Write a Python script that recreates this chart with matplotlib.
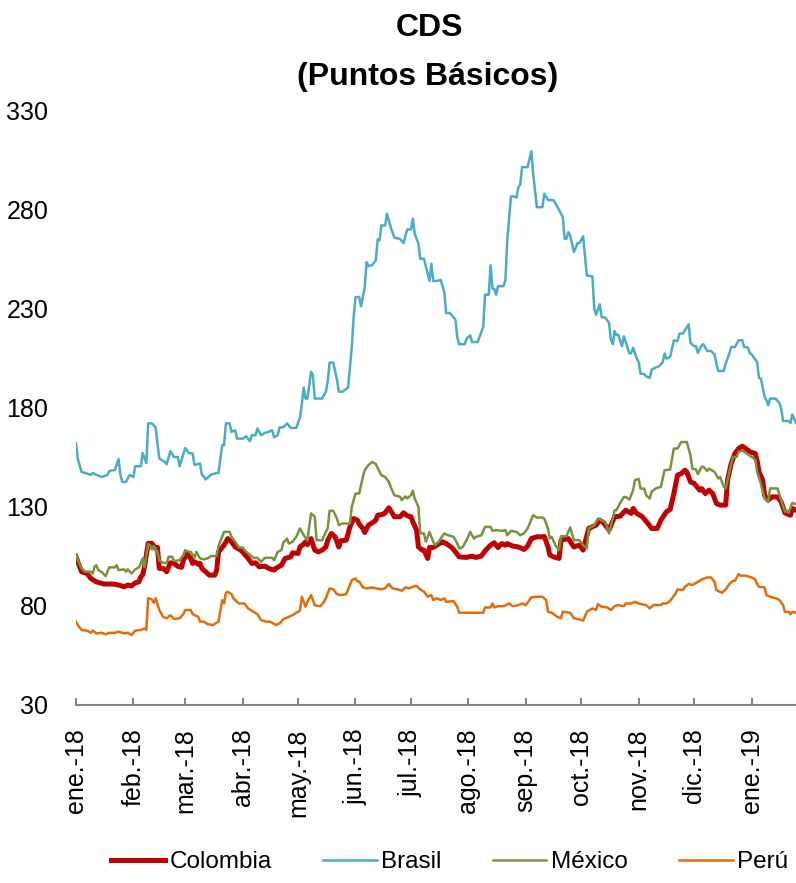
import matplotlib
matplotlib.use("Agg")
import matplotlib.pyplot as plt
import pandas as pd

# CDS en puntos basicos, (dias desde 1-ene-2018, valor)
colombia = [(0, 104.7), (1, 102.2), (3, 97.2), (6, 96.3), (8, 93.8), (11, 92.1), (15, 91), (20, 91),
            (23, 90.5), (26, 89.6), (28, 90.5), (30, 90), (32, 91.6), (34, 92.1), (35, 94.6), (36, 95.5),
            (37, 99.7), (39, 111.5), (41, 111.5), (43, 109), (44, 109.5), (45, 98.9), (47, 98.9), (49, 97.2),
            (51, 101.7), (53, 101.4), (55, 99.9), (57, 99.4), (58, 103), (60, 106.1), (62, 103.9), (63, 101.4),
            (64, 102.2), (66, 101), (67, 101.4), (68, 98.9), (71, 96.3), (72, 95.5), (75, 95.5), (76, 98),
            (77, 107.2), (80, 110.6), (82, 113.9), (84, 112.3), (86, 109.7), (89, 108.1), (90, 107.2), (93, 103.9),
            (95, 101.4), (97, 101.7), (99, 99.7), (102, 100), (104, 98.9), (107, 98), (108, 98.9), (111, 100.5),
            (113, 103.9), (116, 104.7), (117, 106.7), (120, 106.4), (121, 109.7), (123, 111.1), (124, 112.3),
            (125, 110.8), (127, 113.9), (129, 108.1), (131, 107.2), (133, 108.1), (135, 109.7), (136, 113.1),
            (138, 116.5), (140, 114.8), (142, 109.7), (143, 112.8), (146, 113.1), (148, 119.8), (150, 124),
            (152, 123.2), (153, 121.2), (155, 119), (156, 117), (158, 120.7), (160, 121.8), (162, 123.2),
            (163, 125.7), (166, 126.2), (167, 126.9), (169, 129.4), (171, 126.6), (172, 124.9), (175, 124.9),
            (177, 126.9), (179, 125.4), (181, 124.9), (182, 122.3), (184, 118.2), (185, 109.7), (187, 108.1),
            (188, 108.1), (190, 103.9), (191, 109.4), (193, 109.4), (195, 110.6), (197, 111.8), (198, 112.3),
            (200, 111.4), (203, 109.4), (205, 107.2), (207, 104.7), (211, 104.4), (214, 105.1), (216, 104.4),
            (219, 105.1), (221, 107.7), (223, 109.7), (224, 110.6), (226, 111.8), (228, 109.4), (230, 111.4),
            (232, 110.6), (233, 111.4), (236, 110.1), (239, 109.7), (242, 108.4), (244, 110.1), (246, 113.9),
            (249, 114.8), (252, 114.8), (253, 115), (255, 109.7), (256, 105.6), (258, 104.7), (261, 103.9),
            (262, 113.1), (266, 113.9), (269, 109.7), (272, 110.6), (274, 108.1), (277, 119), (281, 120.7),
            (283, 123.2), (285, 121.9), (288, 118.2), (291, 124.9), (294, 125.2), (297, 128.2), (300, 126.6),
            (301, 129.1), (303, 126.6), (306, 124.9), (309, 121.5), (311, 119), (314, 119), (316, 123.2),
            (319, 127.4), (321, 128.6), (323, 136.6), (325, 145.9), (327, 146.7), (329, 148.4), (330, 147.5),
            (332, 142.5), (334, 141.7), (337, 138.3), (338, 139.1), (340, 136.6), (342, 138.3), (344, 136.6),
            (346, 131.6), (348, 130.8), (351, 130.8), (352, 143.4), (354, 151.8), (356, 156.8), (358, 159.3),
            (360, 160.5), (363, 158.5), (364, 157.6), (367, 156.8), (368, 153.1), (369, 147.5), (371, 143.4),
            (372, 135.8), (374, 133.3), (376, 134.9), (379, 134.9), (381, 132.4), (383, 126.9), (384, 126.4),
            (386, 125.7), (387, 129.1), (389, 128.2)]

brasil = [(0, 162), (1, 154), (3, 147.5), (5, 147), (8, 146), (9, 147), (11, 146), (14, 145), (17, 146),
          (18, 148), (21, 148.5), (23, 154), (24, 146), (25, 142.5), (27, 142.5), (29, 146), (31, 145),
          (32, 150.4), (35, 150.4), (36, 157), (38, 152), (39, 172), (41, 172), (43, 170), (45, 154.3),
          (48, 152.6), (49, 151.4), (51, 158), (53, 155), (55, 155), (56, 150.4), (59, 159.6), (61, 157),
          (63, 156.8), (64, 151), (67, 151.8), (68, 146), (69, 145.3), (70, 143.7), (73, 146.2), (76, 147),
          (77, 147), (79, 161), (80, 161), (81, 172), (83, 172), (84, 167.7), (86, 168.5), (87, 164.3),
          (90, 164.3), (92, 165.5), (94, 163), (95, 166), (97, 166), (98, 169.4), (100, 166), (102, 167.2),
          (104, 167.7), (106, 168.5), (107, 165), (109, 166), (110, 170), (112, 170), (114, 172), (116, 169.7),
          (119, 169.7), (121, 175), (122, 181.6), (123, 190), (124, 184.5), (125, 184.5), (127, 198), (128, 196),
          (129, 184.5), (133, 184.5), (135, 188), (136, 193), (137, 202.6), (139, 202.6), (141, 194), (142, 188),
          (144, 188), (147, 190), (149, 210.5), (150, 225.6), (151, 235.7), (153, 235.7), (154, 231),
          (156, 240.7), (157, 253.3), (158, 251.3), (160, 251.8), (162, 254.2), (163, 264.8), (164, 264.3),
          (165, 271.8), (167, 271.8), (168, 277.7), (170, 271), (172, 265.6), (175, 265), (177, 262.9),
          (178, 266.8), (179, 269.8), (181, 269.8), (182, 275.2), (183, 267.6), (185, 262.6), (186, 255),
          (188, 255), (191, 243.8), (192, 252.5), (193, 243.8), (195, 243.8), (197, 244.4), (199, 238.2),
          (200, 227.6), (202, 227.6), (205, 224.3), (206, 215.5), (207, 211.9), (210, 211.9), (211, 214.7),
          (213, 216.4), (214, 213), (217, 213), (219, 218), (220, 220.6), (221, 236.9), (223, 236.9),
          (224, 251.7), (225, 239.9), (226, 239.9), (227, 236.9), (228, 241.2), (231, 241.2), (232, 244.4),
          (233, 264.3), (235, 286.4), (237, 286.4), (238, 285.8), (239, 291.1), (240, 292.3), (241, 301.2),
          (244, 301.2), (246, 309.2), (247, 297.8), (249, 281), (252, 281), (253, 287.8), (255, 284.7),
          (258, 284.5), (260, 281.4), (263, 276), (264, 265.1), (265, 265.1), (266, 268.4), (267, 266.8),
          (269, 258.4), (271, 262.9), (272, 262.9), (274, 266.3), (276, 246.6), (279, 246.1), (280, 229.8),
          (281, 226.8), (283, 232), (284, 225.6), (286, 225.3), (288, 222.6), (289, 214.2), (290, 211.9),
          (291, 218.6), (292, 216.6), (293, 216.6), (295, 210.9), (296, 215.9), (299, 207.2), (300, 207.5),
          (301, 210.1), (303, 204.6), (304, 202.9), (305, 197.1), (307, 196.8), (308, 195.7), (310, 194.9),
          (311, 199.1), (313, 200.1), (315, 200.8), (317, 202.9), (318, 207.2), (319, 204.6), (321, 205.5),
          (323, 213.9), (325, 213.4), (326, 217.2), (328, 217.4), (331, 222), (332, 212.6), (334, 210.9),
          (335, 210.9), (336, 207.5), (338, 211.4), (339, 211.9), (341, 208.5), (343, 208.5), (345, 206.8),
          (346, 202.1), (347, 198.4), (350, 198.4), (351, 202.1), (353, 207.2), (354, 210.5), (356, 210.5),
          (358, 213.9), (360, 213.9), (361, 210.5), (363, 210.2), (364, 207.5), (365, 206.8), (368, 202.9),
          (369, 194.9), (370, 194.6), (372, 185.7), (373, 183.7), (374, 181.1), (375, 184.5), (378, 184.5),
          (380, 182.3), (381, 179.5), (382, 173.2), (385, 173.2), (386, 172.2), (387, 176.5), (389, 172.2)]

mexico = [(0, 106.1), (1, 103), (3, 98.9), (5, 97.2), (8, 97.2), (9, 96.3), (10, 99.7), (11, 100.5),
          (12, 98), (14, 97), (16, 95), (17, 97.2), (18, 99.4), (21, 99.4), (22, 100.5), (23, 98), (26, 98.4),
          (27, 97.2), (28, 98.4), (30, 96.3), (32, 98.4), (34, 99.4), (35, 101.4), (36, 103.9), (37, 99.4),
          (38, 105.6), (39, 111.1), (40, 110.6), (41, 108.4), (42, 110.1), (44, 107.2), (45, 103), (47, 101.7),
          (49, 101.7), (50, 104.7), (52, 104.7), (53, 102.6), (56, 103), (58, 105.6), (59, 108.1), (61, 107.2),
          (62, 107.2), (64, 104.2), (65, 107.2), (67, 103.9), (69, 103.4), (71, 103.9), (73, 105.1), (76, 105.1),
          (77, 110.1), (79, 114.8), (80, 117.3), (83, 117.3), (84, 114.8), (86, 112.3), (88, 109.4), (90, 109.4),
          (92, 107.2), (94, 105.6), (96, 104.2), (98, 104.2), (100, 102.2), (102, 104.2), (106, 104.2), (107, 103),
          (109, 107.2), (111, 108.1), (112, 111.8), (114, 113.9), (115, 111.4), (117, 112.3), (119, 114.8),
          (121, 119), (123, 115.7), (125, 113), (127, 126.6), (129, 124.9), (130, 113.1), (133, 113.1),
          (135, 117.3), (136, 119), (137, 127.9), (139, 127.9), (141, 124), (142, 120.7), (144, 121.5),
          (148, 121.5), (149, 129.9), (151, 136.6), (153, 136.6), (155, 145), (156, 148.4), (158, 151),
          (160, 152.5), (162, 151.5), (164, 147.5), (165, 145.9), (167, 145), (169, 142.5), (170, 140),
          (172, 135.8), (175, 135), (176, 133.3), (178, 135.2), (179, 134.1), (181, 135.8), (182, 138),
          (183, 134.1), (185, 129.9), (186, 116.5), (188, 116.5), (189, 112.3), (191, 117.3), (193, 112.3),
          (194, 110.6), (196, 112.3), (197, 113.9), (199, 116.5), (201, 115.6), (204, 114.8), (206, 111.4),
          (207, 108.9), (209, 109.7), (211, 113.1), (213, 117.3), (215, 113.9), (216, 114.8), (219, 115.6),
          (221, 119.8), (224, 119.8), (225, 117.8), (227, 118.2), (230, 117.8), (232, 118.2), (233, 115.6),
          (235, 117.8), (238, 117.3), (240, 115.6), (242, 116.5), (244, 119), (247, 125.7), (249, 124.5),
          (252, 124.5), (253, 124), (255, 119), (256, 114), (257, 114.8), (259, 110.6), (261, 108.1),
          (262, 115.1), (265, 115.1), (267, 119.5), (269, 113.1), (272, 113.1), (274, 110.6), (276, 108.9),
          (277, 119), (280, 120.7), (282, 124), (284, 123.2), (286, 122.3), (288, 116.5), (291, 128.2),
          (292, 128.2), (294, 131.9), (296, 134.9), (297, 134.9), (299, 133.6), (301, 138.3), (302, 143.4),
          (304, 144), (305, 139.1), (307, 139.1), (308, 135.8), (310, 134.1), (311, 137.5), (313, 139.1),
          (316, 140), (318, 148.4), (321, 148.7), (323, 159.3), (325, 159.3), (327, 162.6), (330, 162.6),
          (332, 155.9), (333, 149.2), (335, 148.7), (336, 146.4), (338, 150.1), (339, 150.1), (341, 148),
          (342, 149.2), (345, 147.5), (347, 144.2), (348, 145), (350, 140), (351, 139.1), (352, 143.4),
          (354, 151.8), (355, 155.1), (357, 155.1), (358, 157.6), (360, 158.2), (363, 156.4), (365, 155.1),
          (367, 153.8), (368, 147.5), (370, 141.7), (372, 134.1), (374, 132.4), (375, 139.2), (379, 139.2),
          (381, 133.3), (383, 127.4), (384, 128.2), (385, 126.9), (387, 131.9), (389, 131.2)]

peru = [(0, 72), (1, 70.3), (3, 67.8), (6, 67.5), (8, 66.4), (9, 67.5), (11, 66.1), (14, 66.4), (16, 65.6),
        (18, 66.4), (21, 66.4), (23, 67), (26, 66.1), (28, 66.4), (30, 65.3), (32, 67.5), (35, 67.8),
        (37, 68.6), (38, 67.8), (39, 83.8), (41, 83.3), (42, 81.5), (43, 83.8), (45, 77.9), (47, 74.5),
        (49, 73.7), (51, 75.3), (53, 73.4), (56, 73.7), (58, 75.8), (59, 77.9), (62, 77.9), (63, 75.8),
        (66, 74.5), (67, 72), (69, 72), (71, 70.8), (74, 70.3), (76, 71.5), (77, 72), (79, 82.9), (80, 81.2),
        (81, 86.6), (82, 87.1), (84, 85.9), (85, 83.8), (88, 81.2), (91, 81.2), (93, 78.7), (95, 77.5),
        (98, 75.8), (100, 72.8), (103, 72), (105, 72), (108, 70.3), (110, 71.1), (112, 73.2), (115, 74.5),
        (117, 75.3), (119, 76.5), (121, 77.5), (122, 84.6), (124, 79.5), (125, 82), (127, 85.4), (129, 80.3),
        (132, 79.8), (134, 82), (135, 83.8), (137, 88.8), (139, 88.3), (141, 85.9), (143, 85.4), (146, 85.9),
        (148, 90.5), (149, 93), (151, 93.8), (152, 92.3), (153, 92.3), (155, 89.3), (157, 88.8), (160, 89.3),
        (162, 88.8), (165, 88.3), (167, 88.8), (169, 91), (171, 88.8), (174, 88.3), (176, 87.6), (178, 89.3),
        (180, 88.8), (183, 90), (184, 90), (186, 88.3), (188, 87.1), (190, 84.6), (192, 85.4), (193, 82.9),
        (195, 83.8), (197, 82.9), (199, 83.8), (200, 82), (204, 82.4), (206, 79.5), (207, 76.5), (211, 76.5),
        (216, 76.5), (220, 76.5), (221, 79.2), (224, 79.2), (225, 81.2), (226, 79.2), (228, 79.8), (231, 79.8),
        (234, 81.2), (236, 79.8), (239, 80.3), (241, 81.2), (243, 80.3), (246, 84.3), (249, 84.6), (252, 84.6),
        (254, 82.9), (255, 77), (257, 76.5), (260, 74.5), (262, 73.7), (263, 77), (267, 76.5), (269, 73.7),
        (272, 73.2), (274, 72.5), (276, 77), (279, 78.7), (281, 77.9), (282, 80.9), (284, 79.5), (287, 79.2),
        (289, 77.9), (291, 79.8), (293, 80.4), (296, 79.8), (297, 81.2), (300, 81.2), (302, 82), (305, 80.9),
        (308, 80.4), (310, 78.7), (312, 80.4), (316, 80.4), (317, 81.2), (319, 81.2), (321, 82.5), (324, 86.3),
        (325, 88.3), (328, 88), (329, 89.6), (331, 91), (333, 90.5), (336, 92.1), (338, 93.3), (341, 94.3),
        (343, 94.3), (345, 92.1), (346, 87.9), (349, 86.6), (351, 88.3), (353, 91), (355, 92.6), (356, 92.6),
        (358, 96), (359, 95.2), (362, 95.2), (365, 94.3), (367, 93.3), (368, 91), (369, 89.6), (372, 89.3),
        (373, 85.4), (375, 84.6), (378, 83.8), (380, 83), (382, 80.4), (383, 77), (385, 77), (386, 75.8),
        (387, 77), (389, 76.5)]

month_labels = ["ene.-18", "feb.-18", "mar.-18", "abr.-18", "may.-18", "jun.-18", "jul.-18",
                "ago.-18", "sep.-18", "oct.-18", "nov.-18", "dic.-18", "ene.-19"]
y_ticks = [30, 80, 130, 180, 230, 280, 330]

start = pd.Timestamp("2018-01-01")
end = start + pd.Timedelta(days=389)

plt.rcParams["font.family"] = ["Liberation Sans", "DejaVu Sans"]

fig = plt.figure(figsize=(7.96, 8.83), dpi=100)
ax = fig.add_axes([76 / 796, 178 / 883, 720 / 796, 595 / 883])

lines = [("Colombia", colombia, "#C00000", 3.6),
         ("Brasil", brasil, "#4BACC6", 1.8),
         ("México", mexico, "#77933C", 1.8),
         ("Perú", peru, "#E46C0A", 1.8)]
for name, pts, color, lw in lines:
    x = start + pd.to_timedelta([p[0] for p in pts], unit="D")
    ax.plot(x, [p[1] for p in pts], color=color, lw=lw, label=name)

ax.set_xlim(start, end)
ax.set_ylim(30, 330)
ax.set_yticks(y_ticks)
ax.set_xticks(pd.date_range("2018-01-01", "2019-01-01", freq="MS"))
ax.set_xticklabels(month_labels, rotation=90)

for s in ["top", "right", "left"]:
    ax.spines[s].set_visible(False)
ax.spines["bottom"].set_color("#868686")
ax.spines["bottom"].set_linewidth(1.5)
ax.tick_params(axis="x", direction="in", length=5, width=1.5, color="#868686",
               pad=17, labelsize=18)
ax.tick_params(axis="y", length=0, pad=20, labelsize=18)

fig.text(430 / 796, 1 - 36 / 883, "CDS", ha="center", va="baseline",
         fontsize=23, fontweight="bold")
fig.text(428 / 796, 1 - 85 / 883, "(Puntos Básicos)", ha="center", va="baseline",
         fontsize=23, fontweight="bold")

fig.legend(loc="center", bbox_to_anchor=(450 / 796, 1 - 862 / 883), ncol=4, frameon=False,
           fontsize=17.5, handlelength=2.2, handletextpad=0.2, columnspacing=2.1)

fig.savefig("out.png", dpi=100)
